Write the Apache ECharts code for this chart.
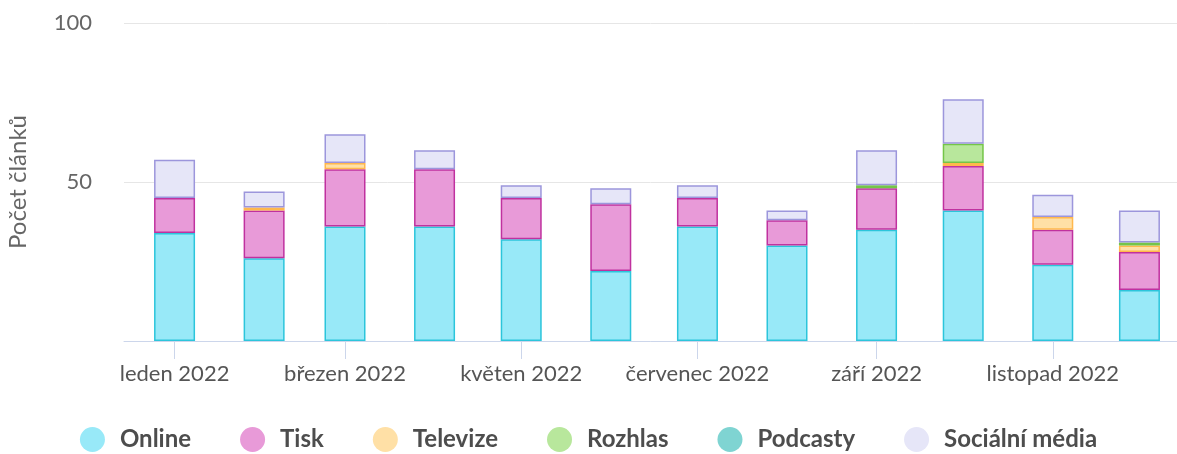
<!DOCTYPE html>
<html>
<head>
<meta charset="utf-8">
<script src="https://cdn.jsdelivr.net/npm/echarts@6/dist/echarts.min.js"></script>
<style>
  html, body { margin: 0; padding: 0; background: #fff; }
  #chart { width: 1177px; height: 454px; }
</style>
</head>
<body>
<div id="chart"></div>
<script>
// months (first day of each month, UTC)
const months = ['2022-01-01', '2022-02-01', '2022-03-01', '2022-04-01', '2022-05-01', '2022-06-01',
                '2022-07-01', '2022-08-01', '2022-09-01', '2022-10-01', '2022-11-01', '2022-12-01'];

const online    = [34, 26, 36, 36, 32, 22, 36, 30, 35, 41, 24, 16];
const tisk      = [11, 15, 18, 18, 13, 21,  9,  8, 13, 14, 11, 12];
const televize  = [ 0,  1,  2,  0,  0,  0,  0,  0,  0,  1,  4,  2];
const rozhlas   = [ 0,  0,  0,  0,  0,  0,  0,  0,  1,  6,  0,  1];
const podcasty  = [ 0,  0,  0,  0,  0,  0,  0,  0,  0,  0,  0,  0];
const socialni  = [12,  5,  9,  6,  4,  5,  4,  3, 11, 14,  7, 10];

const tickDates  = ['2022-01-01', '2022-03-01', '2022-05-01', '2022-07-01', '2022-09-01', '2022-11-01'];
const tickLabels = ['leden 2022', 'březen 2022', 'květen 2022', 'červenec 2022', 'září 2022', 'listopad 2022'];

const FONT = 'Lato, "Open Sans", sans-serif';
const ts = s => Date.parse(s + 'T00:00:00Z');
const tickTs = tickDates.map(ts);
const X_MIN = Date.parse('2021-12-14T12:00:00Z');
const X_MAX = Date.parse('2022-12-14T00:00:00Z');

const SERIES = [
  { name: 'Online',         data: online,   fill: '#98E9F8', line: '#2CC5DB' },
  { name: 'Tisk',           data: tisk,     fill: '#E89AD8', line: '#C0319F' },
  { name: 'Televize',       data: televize, fill: '#FFE0A6', line: '#FFB84D' },
  { name: 'Rozhlas',        data: rozhlas,  fill: '#B8E79C', line: '#74C548' },
  { name: 'Podcasty',       data: podcasty, fill: '#7FD4D2', line: '#3FB3B0' },
  { name: 'Sociální média', data: socialni, fill: '#E6E6F8', line: '#9C96DC' },
];

const chart = echarts.init(document.getElementById('chart'), null, { renderer: 'canvas' });

// x is a value axis in ms (ticks on every other month). Each point is
// [count, date] with the count first, so the stack runs on the counts.
chart.setOption({
  animation: false,
  backgroundColor: '#fff',
  grid: { left: 124, right: 0, top: 23, bottom: 113, outerBoundsMode: 'none' },
  legend: {
    bottom: -3, left: 'center',
    icon: 'circle', itemWidth: 25, itemHeight: 25, itemGap: 49,
    textStyle: { fontFamily: FONT, fontSize: 24, fontWeight: 'bold', color: '#4d4d4d', padding: [0, 0, 0, 10] },
    data: SERIES.map(s => ({ name: s.name, itemStyle: { color: s.fill, borderWidth: 0 } })),
  },
  xAxis: {
    type: 'value', min: X_MIN, max: X_MAX,
    axisLine: { onZero: false, lineStyle: { color: '#CCD6EB', width: 1 } },
    axisTick: { show: true, length: 18, lineStyle: { color: '#CCD6EB' }, customValues: tickTs },
    axisLabel: {
      customValues: tickTs, margin: 22,
      fontFamily: FONT, fontSize: 22, color: '#555',
      formatter: v => { const i = tickTs.indexOf(v); return i >= 0 ? tickLabels[i] : ''; },
    },
    splitLine: { show: false },
  },
  yAxis: {
    type: 'value', min: 0, max: 100, interval: 50,
    name: 'Počet článků', nameLocation: 'middle', nameGap: 94, nameRotate: 90,
    nameTextStyle: { fontFamily: FONT, fontSize: 24, color: '#666' },
    axisLine: { show: false }, axisTick: { show: false },
    axisLabel: { fontFamily: FONT, fontSize: 22, color: '#666', margin: 32, formatter: v => (v === 0 ? '' : String(v)) },
    splitLine: { lineStyle: { color: '#E6E6E6', width: 1 } },
  },
  series: SERIES.map(s => ({
    name: s.name, type: 'bar', stack: 'total', barWidth: 41,
    encode: { x: 1, y: 0 },
    data: months.map((m, i) => [s.data[i] === 0 ? null : s.data[i], ts(m)]),
    itemStyle: { color: s.fill, borderColor: s.line, borderWidth: 1.5 },
  })),
});
</script>
</body>
</html>
